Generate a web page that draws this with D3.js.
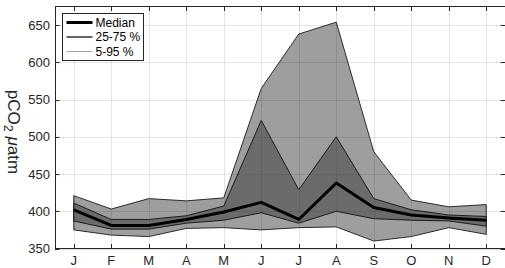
<!DOCTYPE html>
<html>
<head>
  <meta charset="utf-8">
  <title>pCO2 monthly spread</title>
  <script src="https://d3js.org/d3.v7.min.js"></script>
  <style>
    body { margin: 0; background: #fff; }
    svg { display: block; font-family: "Liberation Sans", Arial, Helvetica, sans-serif; }
  </style>
</head>
<body>
  <div id="chart"></div>
  <script>
    // monthly values (uatm)
    var months = ["J", "F", "M", "A", "M", "J", "J", "A", "S", "O", "N", "D"];
    var p05    = [375, 368, 366, 377, 378, 375, 378, 379, 360, 366, 378, 369];
    var p25    = [387, 376, 376, 384, 388, 398, 384, 400, 390, 388, 387, 380];
    var median = [402, 381, 381, 389, 399, 412, 389, 438, 405, 395, 391, 388];
    var p75    = [411, 389, 389, 394, 407, 522, 429, 500, 417, 402, 395, 393];
    var p95    = [421, 403, 417, 414, 418, 565, 638, 654, 480, 415, 406, 409];
    var yTicks = [350, 400, 450, 500, 550, 600, 650];

    var width = 505, height = 268;
    // plot box (note: "top" is reserved on window, so use pTop etc)
    var pLeft = 55, pRight = 505, pTop = 6.5, pBottom = 248.5;
    var axisColor = "#262626";

    var svg = d3.select("#chart").append("svg")
      .attr("width", width)
      .attr("height", height);

    var x = d3.scaleLinear().domain([0.5, 12.5]).range([pLeft, pRight]);
    var y = d3.scaleLinear().domain([350, 675]).range([pBottom, pTop]);

    var idx = d3.range(months.length);

    function band(lo, hi) {
      return d3.area()
        .x(function (i) { return x(i + 1); })
        .y0(function (i) { return y(lo[i]); })
        .y1(function (i) { return y(hi[i]); })(idx);
    }

    var line = function (vals) {
      return d3.line()
        .x(function (i) { return x(i + 1); })
        .y(function (i) { return y(vals[i]); })(idx);
    };

    // white plot background
    svg.append("rect")
      .attr("x", pLeft).attr("y", pTop)
      .attr("width", pRight - pLeft).attr("height", pBottom - pTop)
      .attr("fill", "#fff");

    // bands
    svg.append("path")
      .attr("d", band(p05, p95))
      .attr("fill", "#9e9e9e")
      .attr("stroke", "#1a1a1a")
      .attr("stroke-width", 0.9)
      .attr("stroke-linejoin", "round");

    svg.append("path")
      .attr("d", band(p25, p75))
      .attr("fill", "#6b6b6b")
      .attr("stroke", "#111")
      .attr("stroke-width", 0.9)
      .attr("stroke-linejoin", "round");

    svg.append("path")
      .attr("d", line(median))
      .attr("fill", "none")
      .attr("stroke", "#000")
      .attr("stroke-width", 3)
      .attr("stroke-linejoin", "round");

    // grid on top (matlab style, translucent)
    var grid = svg.append("g")
      .attr("stroke", "rgba(38,38,38,0.13)")
      .attr("stroke-width", 1);
    idx.forEach(function (i) {
      var xx = Math.round(x(i + 1)) + 0.5;
      grid.append("line").attr("x1", xx).attr("x2", xx).attr("y1", pTop).attr("y2", pBottom);
    });
    yTicks.forEach(function (v) {
      var yy = Math.round(y(v)) + 0.5;
      grid.append("line").attr("x1", pLeft).attr("x2", pRight).attr("y1", yy).attr("y2", yy);
    });

    // axes box + inward ticks
    var ax = svg.append("g").attr("stroke", axisColor).attr("stroke-width", 1);
    ax.append("rect")
      .attr("x", pLeft + 0.5).attr("y", pTop)
      .attr("width", pRight - pLeft).attr("height", pBottom - pTop)
      .attr("fill", "none");
    var tl = 4.5;
    idx.forEach(function (i) {
      var xx = Math.round(x(i + 1)) + 0.5;
      ax.append("line").attr("x1", xx).attr("x2", xx).attr("y1", pBottom).attr("y2", pBottom - tl);
      ax.append("line").attr("x1", xx).attr("x2", xx).attr("y1", pTop).attr("y2", pTop + tl);
    });
    yTicks.forEach(function (v) {
      var yy = Math.round(y(v)) + 0.5;
      ax.append("line").attr("x1", pLeft).attr("x2", pLeft + tl).attr("y1", yy).attr("y2", yy);
      ax.append("line").attr("x1", pRight).attr("x2", pRight - tl).attr("y1", yy).attr("y2", yy);
    });

    // tick labels
    svg.append("g").selectAll("text")
      .data(yTicks).enter().append("text")
      .attr("x", pLeft - 5)
      .attr("y", function (d) { return y(d) + 4.5; })
      .attr("text-anchor", "end")
      .attr("font-size", 13)
      .attr("fill", axisColor)
      .text(function (d) { return d; });

    svg.append("g").selectAll("text")
      .data(months).enter().append("text")
      .attr("x", function (d, i) { return x(i + 1); })
      .attr("y", 265)
      .attr("text-anchor", "middle")
      .attr("font-size", 13)
      .attr("fill", axisColor)
      .text(function (d) { return d; });

    // y label, reads top to bottom
    var yl = svg.append("text")
      .attr("transform", "translate(7.5,132) rotate(90)")
      .attr("text-anchor", "middle")
      .attr("font-size", 17)
      .attr("fill", axisColor);
    yl.append("tspan").text("pCO");
    yl.append("tspan").attr("font-size", 12.5).attr("dy", 3.5).text("2");
    yl.append("tspan").attr("dy", -3.5).text(" ");
    yl.append("tspan").attr("font-style", "italic").text("\u03bc");
    yl.append("tspan").text("atm");

    // legend
    var lg = svg.append("g");
    lg.append("rect")
      .attr("x", 62.5).attr("y", 13.5)
      .attr("width", 81).attr("height", 47)
      .attr("fill", "#fff")
      .attr("stroke", axisColor)
      .attr("stroke-width", 1);
    var legendItems = [
      { name: "Median", color: "#000", w: 3 },
      { name: "25-75 %", color: "#666", w: 2 },
      { name: "5-95 %", color: "#a0a0a0", w: 1 }
    ];
    legendItems.forEach(function (d, i) {
      var yy = 22.5 + i * 14.5;
      lg.append("line")
        .attr("x1", 66.5).attr("x2", 92.5)
        .attr("y1", yy).attr("y2", yy)
        .attr("stroke", d.color).attr("stroke-width", d.w);
      lg.append("text")
        .attr("x", 95.5).attr("y", yy + 4.3)
        .attr("font-size", 12)
        .attr("fill", "#000")
        .text(d.name);
    });
  </script>
</body>
</html>
